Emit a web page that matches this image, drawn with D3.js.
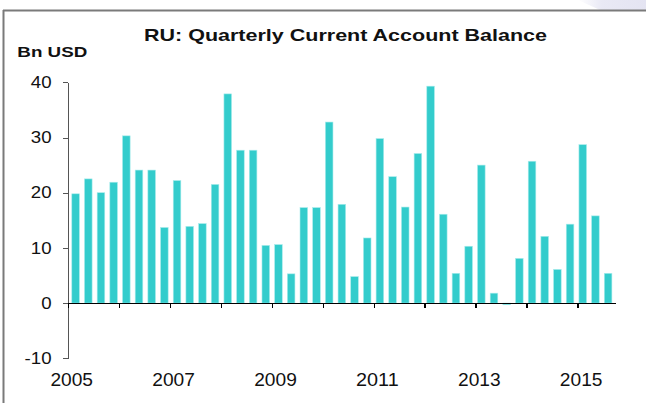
<!DOCTYPE html>
<meta charset="utf-8">
<style>
body { margin: 0; background: #fff; }
svg { display: block; font-family: Arial, "Liberation Sans", Helvetica, sans-serif; }
.axis path, .axis line { shape-rendering: crispEdges; }
</style>
<body>
<svg width="646" height="403"></svg>
<script src="https://d3js.org/d3.v7.min.js"></script>
<script>
// quarterly current account balance, bn USD, 2005Q1 .. 2015Q3
var quarters = ["05Q1","05Q2","05Q3","05Q4","06Q1","06Q2","06Q3","06Q4",
  "07Q1","07Q2","07Q3","07Q4","08Q1","08Q2","08Q3","08Q4",
  "09Q1","09Q2","09Q3","09Q4","10Q1","10Q2","10Q3","10Q4",
  "11Q1","11Q2","11Q3","11Q4","12Q1","12Q2","12Q3","12Q4",
  "13Q1","13Q2","13Q3","13Q4","14Q1","14Q2","14Q3","14Q4",
  "15Q1","15Q2","15Q3"];
var balance = [19.8, 22.5, 20.0, 21.9, 30.3, 24.1, 24.1, 13.7,
  22.2, 13.9, 14.4, 21.5, 37.9, 27.7, 27.7, 10.45,
  10.6, 5.3, 17.3, 17.3, 32.8, 17.9, 4.8, 11.8,
  29.8, 22.9, 17.4, 27.1, 39.3, 16.1, 5.4, 10.3,
  25.0, 1.8, -0.3, 8.1, 25.7, 12.1, 6.1, 14.3,
  28.7, 15.8, 5.4];
var yTicks = [-10, 0, 10, 20, 30, 40];
var yearTicks = [2005, 2006, 2007, 2008, 2009, 2010, 2011, 2012, 2013, 2014, 2015];
var yearLabels = [2005, 2007, 2009, 2011, 2013, 2015];

var svg = d3.select("svg");

var left = 68, right = 615.7;

var x = d3.scaleBand()
    .domain(quarters)
    .range([left, right])
    .paddingInner(0.4)
    .paddingOuter(0.3);

// years on a continuous scale sharing the same pixel range
var xYear = d3.scaleLinear()
    .domain([2005, 2005 + quarters.length / 4])
    .range([left, right]);

var y = d3.scaleLinear()
    .domain([-10, 40])
    .range([358.3, 82.3]);

// frame + corner decoration
var grad = svg.append("defs").append("linearGradient")
    .attr("id", "corner").attr("x1", 0).attr("x2", 1);
grad.append("stop").attr("offset", 0).attr("stop-color", "#fff");
grad.append("stop").attr("offset", 0.35).attr("stop-color", "#e9e9f5");
grad.append("stop").attr("offset", 1).attr("stop-color", "#e4e4f2");
svg.append("path")
    .attr("d", "M578,0 L646,0 L646,10 L600,10 Z")
    .attr("fill", "url(#corner)");
svg.append("line")
    .attr("x1", 3).attr("x2", 646).attr("y1", 10.5).attr("y2", 10.5)
    .attr("stroke", "#7a7a7a").attr("stroke-width", 2);
svg.append("line")
    .attr("x1", 3.5).attr("x2", 3.5).attr("y1", 10).attr("y2", 403)
    .attr("stroke", "#7a7a7a").attr("stroke-width", 2);

// bars
svg.append("g").selectAll("rect")
  .data(balance)
  .enter().append("rect")
    .attr("x", function(d, i) { return x(quarters[i]); })
    .attr("width", x.bandwidth())
    .attr("y", function(d) { return y(Math.max(0, d)); })
    .attr("height", function(d) { return Math.abs(y(d) - y(0)); })
    .attr("fill", "#33cccc")
    .attr("stroke", "#a8ecec")
    .attr("stroke-width", 0.6);

// y axis
var yAxis = svg.append("g")
    .attr("class", "axis")
    .attr("transform", "translate(" + left + ",0)")
    .call(d3.axisLeft(y).tickValues(yTicks).tickSize(5).tickPadding(11.5).tickSizeOuter(0)
      .tickFormat(function(d) { return String(d); }));
yAxis.select(".domain").attr("stroke", "#555");
yAxis.selectAll(".tick line").attr("stroke", "#555");
yAxis.selectAll("text")
    .attr("font-size", "16.5px")
    .attr("fill", "#111")
    .each(function() {
      var t = d3.select(this);
      t.attr("textLength", this.getComputedTextLength() * 1.13).attr("lengthAdjust", "spacingAndGlyphs");
    });

// x axis at zero
var xAxis = svg.append("g")
    .attr("class", "axis")
    .attr("transform", "translate(0," + y(0) + ")")
    .call(d3.axisBottom(xYear).tickValues(yearTicks).tickSize(5).tickSizeOuter(0).tickFormat(""));
xAxis.select(".domain").attr("stroke", "#000").attr("stroke-width", 1.5);
xAxis.selectAll(".tick line").attr("stroke", "#000").attr("stroke-width", 1.3);

// year labels along the bottom
svg.append("g").selectAll("text")
  .data(yearLabels)
  .enter().append("text")
    .attr("x", function(d) { return xYear(d) + 3.7; })
    .attr("y", 386)
    .attr("text-anchor", "middle")
    .attr("font-size", "18px")
    .attr("fill", "#111")
    .attr("textLength", 42.6)
    .attr("lengthAdjust", "spacingAndGlyphs")
    .text(function(d) { return d; });

// titles
svg.append("text")
    .attr("x", 144).attr("y", 40.7)
    .attr("font-size", "17px").attr("font-weight", "bold")
    .attr("fill", "#111")
    .attr("textLength", 403).attr("lengthAdjust", "spacingAndGlyphs")
    .text("RU: Quarterly Current Account Balance");

svg.append("text")
    .attr("x", 17.3).attr("y", 57.3)
    .attr("font-size", "14.8px").attr("font-weight", "bold")
    .attr("fill", "#111")
    .attr("textLength", 70).attr("lengthAdjust", "spacingAndGlyphs")
    .text("Bn USD");
</script>
</body>
